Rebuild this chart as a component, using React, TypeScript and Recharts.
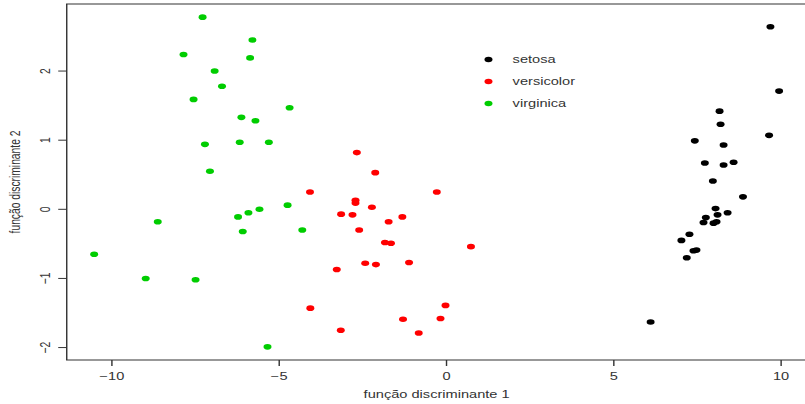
import React from 'react';
import { ScatterChart, Scatter, XAxis, YAxis, ReferenceArea, Legend, Label } from 'recharts';

const seriesNames = ['setosa', 'versicolor', 'virginica'];
const seriesColors = ['#000000', '#FF0000', '#00CD00'];

const setosaX = [9.68, 9.94, 8.16, 8.19, 9.64, 7.42, 8.28, 7.72, 8.28, 8.58, 7.96, 8.86, 8.04, 8.10, 8.40, 7.75, 7.68, 8.07, 7.98, 7.26, 7.02, 7.47, 7.38, 7.18, 6.10];
const setosaY = [2.64, 1.71, 1.42, 1.23, 1.07, 0.99, 0.93, 0.67, 0.64, 0.68, 0.41, 0.18, 0.01, -0.08, -0.05, -0.12, -0.19, -0.18, -0.20, -0.36, -0.45, -0.59, -0.60, -0.70, -1.63];

const versicolorX = [-2.68, -2.13, -4.08, -0.29, -2.72, -2.72, -2.23, -3.15, -2.81, -1.32, -1.73, -2.61, -1.84, -1.66, 0.73, -2.43, -2.11, -1.12, -3.28, -4.07, -0.03, -1.30, -0.18, -3.16, -0.83];
const versicolorY = [0.82, 0.53, 0.25, 0.25, 0.13, 0.09, 0.03, -0.07, -0.08, -0.11, -0.18, -0.30, -0.48, -0.49, -0.54, -0.78, -0.80, -0.77, -0.87, -1.43, -1.39, -1.59, -1.58, -1.75, -1.79];

const virginicaX = [-7.29, -5.80, -7.86, -5.87, -6.93, -6.71, -7.56, -4.69, -6.13, -5.71, -7.22, -6.18, -5.31, -7.07, -4.75, -5.59, -5.92, -6.23, -8.63, -6.09, -4.31, -10.53, -8.99, -7.50, -5.35];
const virginicaY = [2.78, 2.45, 2.24, 2.19, 2.00, 1.78, 1.59, 1.47, 1.33, 1.28, 0.94, 0.97, 0.97, 0.55, 0.06, 0.00, -0.05, -0.11, -0.18, -0.32, -0.30, -0.65, -1.00, -1.02, -1.99];

const xTicks = [-10, -5, 0, 5, 10];
const yTicks = [-2, -1, 0, 1, 2];
const xDomain: [number, number] = [-11.35, 10.76];
const yDomain: [number, number] = [-2.18, 2.97];
const xTitle = 'função discriminante 1';
const yTitle = 'função discriminante 2';

const STRETCH = 1.42;
const W = 568;
const H = 404;
const FONT = '"Liberation Sans", Arial, Helvetica, sans-serif';
const FS = 10.3;
const INK = '#333333';
const R = 2.8;

const fmt = (v: number) => (v < 0 ? '\u2212' + Math.abs(v) : String(v));
const zip = (xs: number[], ys: number[]) => xs.map((x, i) => ({ x, y: ys[i] }));
const seriesData = [zip(setosaX, setosaY), zip(versicolorX, versicolorY), zip(virginicaX, virginicaY)];

function XTick(props: any) {
  const { x, y, payload } = props;
  return (
    <text x={x} y={y} dy="0.71em" textAnchor="middle" fill={INK} fontSize={FS} fontFamily={FONT}>
      {fmt(payload.value)}
    </text>
  );
}

function YTick(props: any) {
  const { x, y, payload } = props;
  return (
    <text x={x} y={y} textAnchor="middle" transform={`rotate(-90 ${x} ${y})`} fill={INK} fontSize={FS} fontFamily={FONT}>
      {fmt(payload.value)}
    </text>
  );
}

const makeDot = (color: string) => (p: any) => <circle cx={p.cx} cy={p.cy} r={R} fill={color} />;

function LegendBox() {
  return (
    <svg width={130} height={70} style={{ display: 'block', overflow: 'visible' }}>
      {seriesNames.map((n, i) => (
        <g key={n}>
          <circle cx={14} cy={14.5 + 22 * i} r={R} fill={seriesColors[i]} />
          <text x={31} y={14.5 + 22 * i} dy="0.355em" fill={INK} fontSize={FS} fontFamily={FONT}>
            {n}
          </text>
        </g>
      ))}
    </svg>
  );
}

export default function App() {
  return (
    <div
      style={{
        position: 'absolute',
        left: 0,
        top: 0,
        width: W,
        height: H,
        transform: `scaleX(${STRETCH})`,
        transformOrigin: '0 0',
        background: '#fff',
      }}
    >
      <ScatterChart width={W} height={H} margin={{ top: 4, right: 0, bottom: 0, left: 0 }}>
        <XAxis
          type="number"
          dataKey="x"
          domain={xDomain}
          ticks={xTicks}
          allowDataOverflow
          height={44}
          axisLine={false}
          tickLine={{ stroke: INK }}
          tickSize={6}
          tickMargin={7}
          tick={<XTick />}
        >
          <Label value={xTitle} position="insideBottom" offset={5.5} fill={INK} fontSize={FS} fontFamily={FONT} />
        </XAxis>
        <YAxis
          type="number"
          dataKey="y"
          domain={yDomain}
          ticks={yTicks}
          allowDataOverflow
          width={47}
          axisLine={false}
          tickLine={{ stroke: INK }}
          tickSize={6}
          tickMargin={5.5}
          tick={<YTick />}
        >
          <Label
            value={yTitle}
            angle={-90}
            position="insideLeft"
            offset={10.6}
            fill={INK}
            fontSize={FS}
            fontFamily={FONT}
            style={{ textAnchor: 'middle' }}
          />
        </YAxis>
        <ReferenceArea
          x1={xDomain[0]}
          x2={xDomain[1]}
          y1={yDomain[0]}
          y2={yDomain[1]}
          fill="none"
          fillOpacity={0}
          stroke={INK}
          strokeWidth={1}
        />
        {seriesNames.map((n, i) => (
          <Scatter
            key={n}
            name={n}
            data={seriesData[i]}
            fill={seriesColors[i]}
            shape={makeDot(seriesColors[i])}
            isAnimationActive={false}
          />
        ))}
        <Legend
          layout="horizontal"
          verticalAlign="middle"
          align="center"
          content={() => <LegendBox />}
          wrapperStyle={{ position: 'absolute', left: 330, top: 45, width: 130, height: 70 }}
        />
      </ScatterChart>
    </div>
  );
}
